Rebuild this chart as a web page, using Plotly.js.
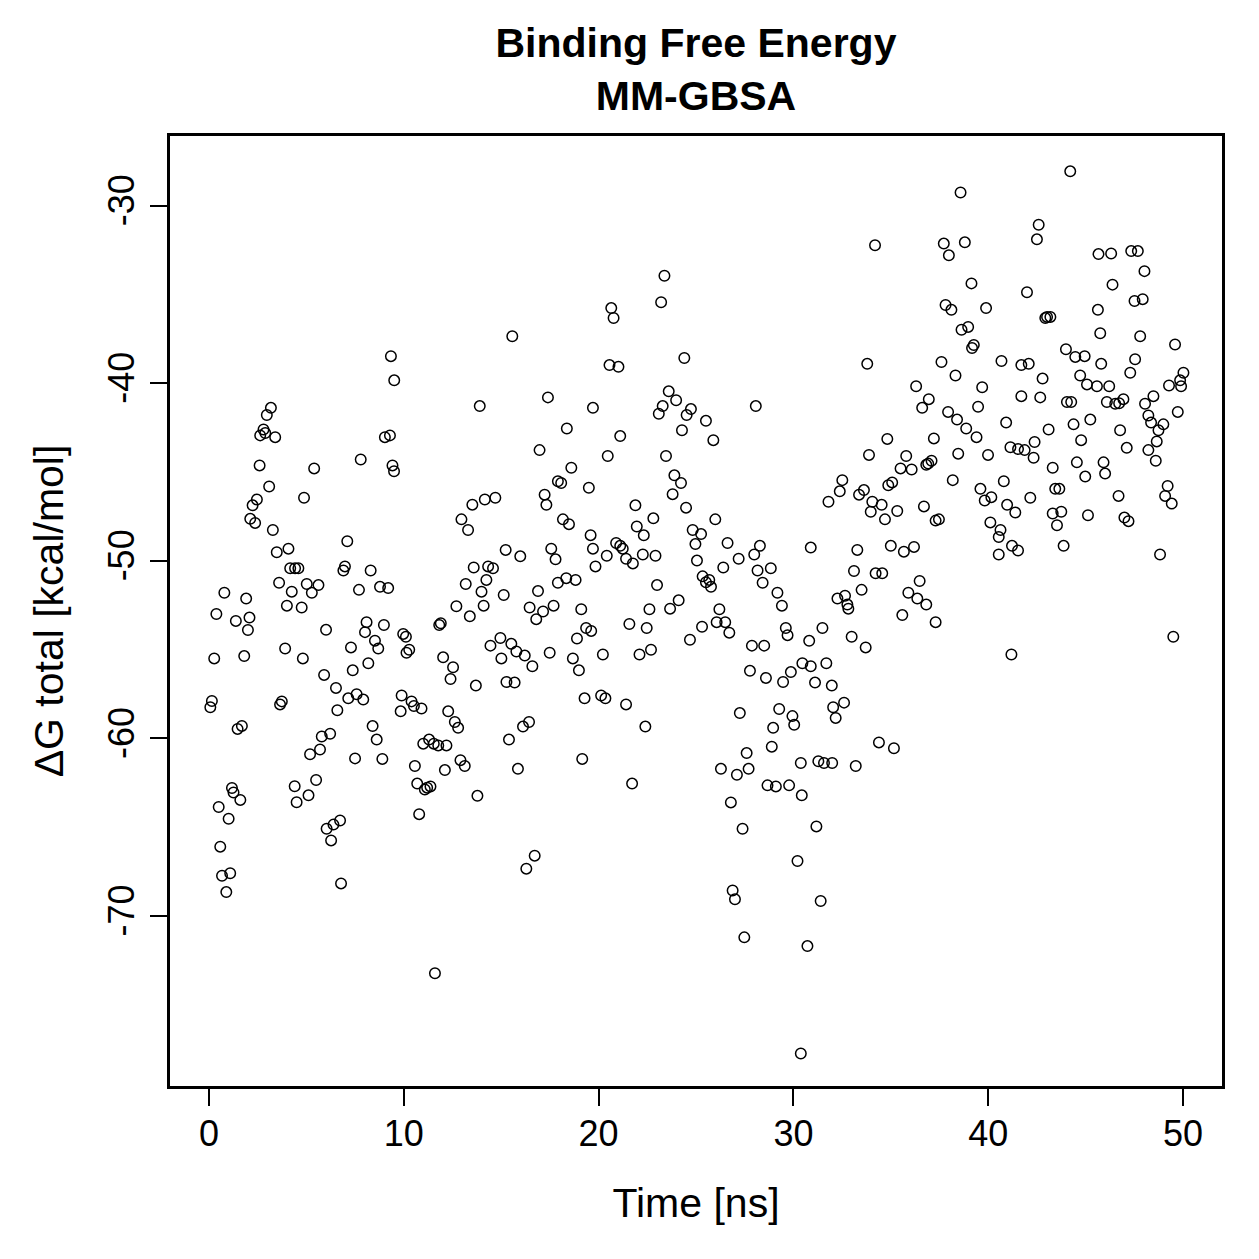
<!DOCTYPE html>
<html><head><meta charset="utf-8">
<script src="https://cdn.plot.ly/plotly-3.0.1.min.js"></script>
<style>html,body{margin:0;padding:0;background:#fff}#chart{width:1259px;height:1259px}</style>
</head><body><div id="chart"></div>
<script>
var chartTitle = "Binding Free Energy<br>MM-GBSA";
var xLabel = "Time [ns]";
var yLabel = "\u0394G total [kcal/mol]";
var xTicks = [0, 10, 20, 30, 40, 50];
var yTicks = [-70, -60, -50, -40, -30];

var time = [
0.07,0.15,0.27,0.38,0.79,0.50,1.01,0.58,0.67,1.09,0.89,1.18,1.26,1.61,1.47,1.69,1.38,1.81,1.91,2.08,2.00,2.12,2.24,2.37,2.46,2.60,2.63,2.80,2.89,2.97,3.18,3.40,3.09,3.28,3.48,4.08,3.60,4.00,4.17,4.42,4.25,3.91,3.74,3.65,4.40,4.50,
9.34,9.51,9.03,9.29,9.42,9.50,7.79,5.40,4.88,7.10,4.59,6.98,6.90,8.30,5.02,5.62,5.28,4.76,7.70,8.78,9.20,8.09,8.98,8.01,6.01,8.52,8.69,7.29,4.82,8.18,7.38,5.91,6.52,7.15,7.58,7.92,6.59,8.40,8.61,6.22,5.79,5.70,5.19,7.50,8.90,5.50,5.11,6.04,6.39,6.73,6.27,6.78,
13.90,13.52,14.16,14.70,12.96,13.30,13.59,14.33,14.58,14.24,13.18,13.99,12.70,14.10,13.39,11.82,11.90,14.45,9.97,10.11,10.14,10.28,12.02,12.53,12.40,13.70,9.89,9.84,10.40,10.52,10.91,12.28,12.62,12.79,11.00,11.30,11.54,11.77,12.19,10.57,12.11,12.91,13.13,10.69,11.08,11.20,11.37,13.78,10.79,11.60,
15.57,17.40,19.71,18.37,16.97,18.60,17.91,18.08,17.23,17.32,19.50,18.17,18.48,19.59,19.71,19.84,15.23,15.98,17.57,17.79,17.91,18.34,18.82,16.89,16.46,17.15,17.69,16.80,15.13,19.11,19.36,19.62,18.89,14.96,15.01,15.52,15.78,16.21,16.60,17.49,18.68,18.99,15.27,15.69,19.28,16.12,16.43,15.40,19.16,15.86,16.72,16.29,
23.38,23.21,20.65,20.77,24.40,20.56,21.02,23.60,23.98,23.29,23.09,24.74,24.52,24.28,21.11,20.47,23.46,23.89,24.23,23.80,24.49,21.89,22.81,21.96,22.32,24.83,24.97,25.05,20.42,20.90,21.11,21.24,21.41,21.76,22.27,22.92,23.00,23.67,24.11,22.61,21.58,22.47,22.69,22.10,24.69,20.22,20.13,20.35,21.41,22.40,21.72,
28.07,25.51,25.89,25.99,25.26,26.62,27.19,27.99,28.28,26.40,28.16,28.84,28.42,25.34,25.51,25.68,25.77,29.18,29.41,26.20,26.06,26.50,26.71,25.31,29.61,29.70,27.87,28.50,27.77,28.59,29.47,29.87,27.25,29.27,29.95,30.04,28.96,28.89,27.60,26.28,27.10,27.70,28.67,29.10,29.78,26.79,27.39,26.88,27.00,27.48,
34.19,33.79,34.82,33.88,32.51,32.38,31.80,33.37,33.62,34.05,33.97,34.53,34.70,34.87,35.07,35.33,30.89,33.28,33.11,34.22,34.56,35.00,32.26,32.65,32.77,32.82,33.50,31.49,30.81,32.99,33.71,30.46,30.89,31.11,31.69,31.97,32.04,32.60,32.17,34.39,35.16,30.38,31.28,31.57,31.99,33.20,30.43,31.18,30.21,31.40,30.72,30.38,
38.58,37.72,37.98,38.80,39.14,37.81,38.11,38.63,38.97,39.26,39.17,39.89,37.60,38.32,36.30,36.61,36.95,39.69,39.48,37.94,38.40,38.87,39.40,37.21,39.99,38.46,35.79,35.50,36.07,36.82,37.09,36.92,38.18,39.60,39.82,40.16,36.70,37.30,37.47,40.11,35.67,36.19,36.48,35.90,36.36,36.82,35.59,37.30,
44.21,42.59,42.50,41.99,42.93,43.02,43.19,40.68,41.70,42.08,43.99,44.47,44.95,42.79,44.72,45.07,41.70,42.67,44.04,44.26,40.92,43.10,44.38,45.24,41.14,41.53,41.87,42.38,42.33,44.77,43.31,44.55,44.98,40.80,43.44,43.65,42.16,40.97,41.39,43.31,43.75,43.53,45.12,40.63,40.54,41.22,41.53,43.87,40.54,41.19,
45.66,46.31,47.34,47.68,48.02,46.38,47.51,47.93,45.63,45.75,47.80,49.59,45.80,47.54,47.29,50.02,49.85,49.90,49.28,46.21,45.58,46.09,46.52,46.72,46.94,48.05,48.48,48.22,48.36,49.73,48.99,48.74,46.77,47.11,48.22,48.65,48.60,45.92,46.00,49.21,49.08,49.42,46.69,46.99,47.20,48.82,49.50
];

var dG = [
-58.25,-57.9,-55.5,-53.0,-51.8,-63.87,-64.53,-66.1,-67.74,-67.6,-68.66,-62.8,-63.05,-63.47,-59.47,-59.3,-53.39,-55.37,-52.13,-53.2,-53.9,-47.64,-46.88,-47.87,-46.55,-44.63,-42.94,-42.61,-42.81,-41.79,-41.39,-43.04,-45.82,-48.27,-49.52,-49.32,-51.24,-52.53,-50.42,-50.42,-51.74,-54.94,-57.92,-58.09,-62.7,-63.6,
-38.48,-39.84,-43.04,-42.94,-44.63,-44.96,-44.3,-44.8,-46.45,-48.9,-50.42,-50.32,-50.55,-50.55,-51.31,-51.37,-51.8,-52.63,-51.64,-51.47,-51.54,-53.46,-53.62,-54.02,-53.89,-54.5,-54.94,-54.88,-55.5,-55.77,-56.17,-56.43,-57.16,-57.75,-57.52,-57.82,-58.42,-59.31,-60.07,-59.74,-59.9,-60.63,-60.9,-61.13,-61.16,-62.35,-63.21,-65.09,-64.86,-64.63,-65.75,-68.17,
-41.29,-46.84,-46.55,-46.45,-47.67,-48.27,-50.38,-50.32,-50.42,-51.08,-51.31,-51.74,-52.56,-52.53,-53.13,-53.62,-53.52,-54.78,-54.12,-54.28,-55.18,-55.01,-55.44,-56.0,-56.66,-57.03,-57.59,-58.48,-57.92,-58.18,-58.32,-58.48,-59.08,-59.41,-60.3,-60.07,-60.3,-60.4,-60.4,-61.56,-61.79,-61.23,-61.56,-62.55,-62.88,-62.78,-62.71,-63.24,-64.27,-73.23,
-37.36,-40.8,-41.39,-42.55,-43.77,-44.76,-45.52,-45.62,-46.28,-46.85,-45.89,-47.67,-47.94,-48.56,-49.32,-50.32,-49.39,-49.75,-49.32,-49.92,-51.24,-50.98,-51.08,-51.71,-52.63,-52.86,-52.53,-53.29,-51.93,-52.73,-53.79,-53.95,-54.38,-54.35,-55.5,-54.68,-55.11,-55.34,-55.94,-55.18,-55.5,-56.17,-56.83,-56.86,-57.75,-59.34,-59.08,-60.07,-61.16,-61.72,-66.61,-67.34,
-33.95,-35.44,-35.77,-36.33,-38.58,-38.98,-39.08,-40.46,-40.96,-41.29,-41.72,-41.46,-41.79,-42.65,-42.98,-44.1,-44.1,-45.19,-45.62,-46.25,-47.01,-46.88,-47.61,-48.07,-48.57,-48.27,-49.06,-49.99,-49.72,-49.0,-49.16,-49.32,-49.89,-50.15,-49.65,-49.72,-51.37,-52.7,-52.23,-52.73,-53.56,-53.79,-55.01,-55.28,-54.45,-55.28,-57.59,-57.75,-58.09,-59.34,-62.55,
-41.29,-42.12,-43.21,-47.67,-48.5,-49.0,-49.89,-49.65,-49.16,-50.38,-50.55,-50.42,-51.24,-50.88,-51.21,-51.08,-51.47,-51.8,-52.53,-52.73,-53.46,-53.46,-54.05,-53.72,-53.79,-54.19,-54.78,-54.78,-56.2,-56.6,-56.83,-56.27,-58.58,-58.35,-58.75,-59.24,-59.41,-60.47,-60.83,-61.72,-62.05,-61.72,-62.65,-62.71,-62.65,-63.61,-65.09,-68.57,-69.06,-71.21,
-32.23,-38.91,-43.14,-44.04,-45.46,-46.09,-46.68,-46.28,-46.02,-46.68,-47.24,-46.85,-47.67,-45.75,-45.59,-47.2,-49.26,-49.39,-50.58,-50.71,-50.71,-49.16,-52.13,-51.97,-52.47,-52.7,-51.64,-53.79,-54.51,-54.28,-54.88,-55.77,-55.94,-56.86,-55.77,-57.03,-58.25,-57.99,-58.85,-60.23,-60.56,-61.39,-61.29,-61.39,-61.39,-61.56,-63.21,-64.96,-66.91,-69.16,-71.7,-77.75,
-29.26,-32.14,-32.8,-32.07,-34.38,-35.6,-35.87,-36.99,-36.83,-37.85,-38.02,-35.77,-38.81,-39.57,-40.17,-41.39,-40.9,-40.23,-41.33,-41.62,-42.05,-42.55,-43.04,-43.11,-44.04,-43.97,-44.1,-44.8,-44.86,-44.6,-44.37,-44.53,-45.46,-45.95,-46.61,-46.42,-46.94,-47.74,-47.67,-47.84,-49.49,-49.22,-51.14,-51.8,-52.13,-52.47,-53.06,-53.46,
-28.07,-31.08,-31.9,-34.88,-36.33,-36.27,-36.27,-38.75,-38.98,-38.91,-38.09,-38.52,-38.48,-39.74,-39.57,-40.07,-40.73,-40.8,-41.06,-41.06,-42.22,-42.61,-42.32,-42.05,-43.61,-43.71,-43.77,-43.31,-44.2,-43.21,-44.76,-44.46,-45.26,-45.52,-45.95,-45.95,-46.45,-46.85,-47.28,-47.34,-47.24,-48.0,-47.44,-48.27,-48.66,-49.16,-49.42,-49.16,-49.65,-55.28,
-32.73,-32.7,-32.56,-32.56,-33.69,-34.45,-35.37,-35.27,-35.87,-37.19,-37.36,-37.82,-38.91,-38.65,-39.41,-39.41,-39.84,-40.17,-40.13,-40.17,-40.17,-41.06,-41.16,-41.13,-40.9,-41.16,-40.73,-41.82,-42.22,-41.62,-42.32,-42.65,-42.65,-43.64,-43.77,-43.28,-44.37,-44.46,-45.09,-45.79,-46.35,-46.78,-46.35,-47.57,-47.77,-49.65,-54.28
];

var font = "Liberation Sans, Arial, Helvetica, sans-serif";

var trace = {
  type: "scatter", mode: "markers", x: time, y: dG,
  marker: {symbol: "circle-open", size: 10.5, color: "#000", line: {width: 1.5, color: "#000"}},
  hoverinfo: "x+y"
};

var axisCommon = {
  showline: true, linewidth: 2.5, linecolor: "#000", mirror: true,
  showgrid: false, zeroline: false,
  ticks: "outside", ticklen: 17, tickwidth: 2, tickcolor: "#000",
  tickfont: {family: font, size: 36, color: "#000"},
  automargin: false
};

var layout = {
  width: 1259, height: 1259,
  margin: {l: 170, r: 37, t: 136, b: 173, pad: 0},
  paper_bgcolor: "#fff", plot_bgcolor: "#fff",
  showlegend: false,
  font: {family: font, color: "#000"},
  title: {
    text: "<b>" + chartTitle.split("<br>").join("</b><br><b>") + "</b>",
    font: {family: font, size: 41, color: "#000"},
    x: 0.5, xref: "paper", xanchor: "center",
    y: 0.9551, yref: "container", yanchor: "top"
  },
  xaxis: Object.assign({}, axisCommon, {
    range: [-2, 52], tickmode: "array", tickvals: xTicks, ticktext: xTicks.map(String),
    ticklabelstandoff: -3,
    title: {text: xLabel, font: {family: font, size: 41, color: "#000"}, standoff: 36}
  }),
  yaxis: Object.assign({}, axisCommon, {
    range: [-79.58, -26.08], tickmode: "array", tickvals: yTicks, ticktext: yTicks.map(String),
    tickangle: -90, ticklabelstandoff: 2,
    title: {text: yLabel, font: {family: font, size: 41, color: "#000"}, standoff: 25}
  })
};

Plotly.newPlot("chart", [trace], layout, {displayModeBar: false, responsive: false});
</script>
</body></html>
